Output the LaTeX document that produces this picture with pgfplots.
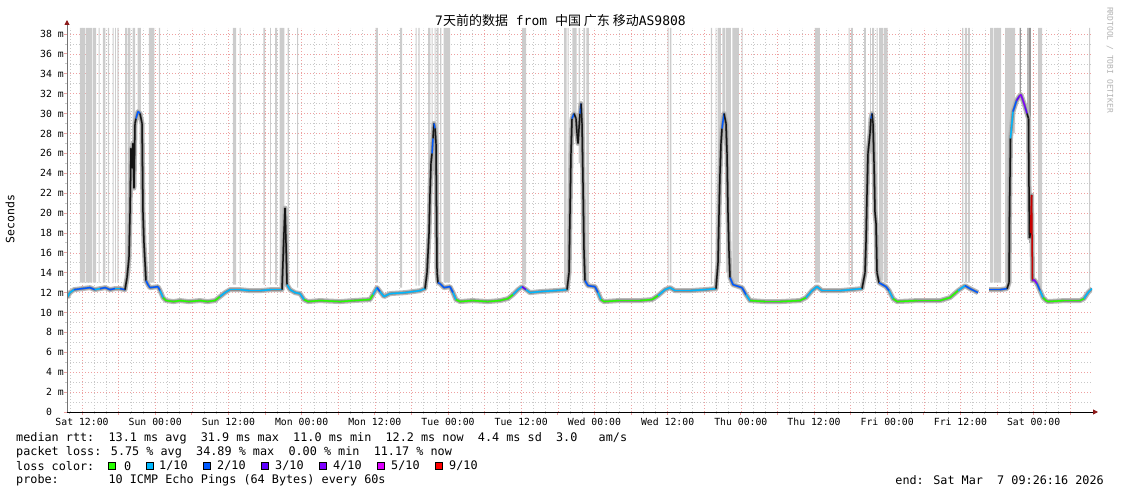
\documentclass[border=0pt]{standalone}
\usepackage{fontspec}
\setmainfont{DejaVu Sans Mono}
\setmonofont{DejaVu Sans Mono}
\newfontfamily\cjk{Noto Sans CJK SC}
\usepackage{pgfplots}
\usepackage{pgfplotstable}
\pgfplotsset{compat=1.18}
\usetikzlibrary{arrows.meta}

\definecolor{mgrid}{RGB}{238,160,160}
\definecolor{sgrid}{RGB}{200,200,200}
\definecolor{smoke}{RGB}{204,204,204}
\definecolor{smokedk}{RGB}{150,150,150}
\definecolor{smokeA}{RGB}{185,185,185}
\definecolor{smokeB}{RGB}{140,140,140}
\definecolor{arrred}{RGB}{140,25,25}
\definecolor{L0}{RGB}{38,255,0}
\definecolor{L1}{RGB}{0,184,255}
\definecolor{L2}{RGB}{0,89,255}
\definecolor{L3}{RGB}{94,0,255}
\definecolor{L4}{RGB}{126,0,255}
\definecolor{L5}{RGB}{221,0,255}
\definecolor{L9}{RGB}{255,0,0}

% median rtt (ms) vs hours after Sat 12:00; c = loss colour index (7 = dark)
\pgfplotstableread{
h v c
-2.46 11.5 1
-1.97 12.0 1
-1.31 12.3 2
0.00 12.4 2
1.31 12.5 2
2.10 12.3 1
2.95 12.4 2
3.80 12.5 2
4.59 12.3 2
5.40 12.4 1
6.23 12.4 2
7.05 12.3 7
7.38 13.5 7
7.70 15.5 7
7.87 20.0 7
8.03 26.5 7
8.20 24.5 7
8.36 27.0 7
8.52 22.5 7
8.69 29.0 7
8.85 29.5 2
9.18 30.2 2
9.51 30.0 7
9.84 29.0 7
10.00 20.0 7
10.16 17.0 7
10.49 13.2 2
10.82 12.8 2
11.15 12.5 2
12.46 12.6 2
12.79 12.2 1
13.28 11.5 0
13.77 11.2 0
15.00 11.1 0
16.07 11.2 0
17.50 11.1 0
19.34 11.2 0
20.60 11.1 0
21.80 11.2 0
22.62 11.6 1
23.44 12.0 1
24.26 12.3 1
25.90 12.3 1
27.50 12.2 1
29.18 12.2 1
31.00 12.3 1
32.79 12.3 7
33.11 18.0 7
33.28 20.5 7
33.44 17.0 7
33.61 12.8 1
34.10 12.3 1
34.92 12.0 1
35.74 11.9 1
36.39 11.3 0
37.05 11.1 0
39.00 11.2 0
42.30 11.1 0
44.50 11.2 0
47.21 11.3 0
47.70 11.8 1
48.36 12.5 2
48.85 12.1 1
49.51 11.6 1
50.49 11.9 1
52.95 12.0 1
55.41 12.2 1
56.23 12.4 7
56.56 14.0 7
56.89 18.0 7
57.05 22.0 7
57.21 25.0 7
57.38 26.0 2
57.54 27.5 7
57.70 29.0 2
57.87 28.5 7
58.03 27.0 7
58.20 14.0 7
58.36 13.0 2
58.69 12.9 2
59.34 12.5 2
60.33 12.6 2
60.82 12.0 1
61.31 11.3 0
61.97 11.1 0
64.00 11.2 0
66.50 11.1 0
68.52 11.2 0
69.84 11.4 0
70.66 11.8 1
71.48 12.3 1
72.13 12.6 3
72.79 12.3 1
73.44 12.0 1
75.08 12.1 1
77.54 12.2 1
79.51 12.3 7
79.84 14.0 7
80.00 20.0 7
80.16 26.0 7
80.33 29.5 2
80.66 30.0 7
80.98 29.5 7
81.15 28.0 7
81.31 27.0 7
81.64 30.0 2
81.80 31.0 7
81.97 29.0 7
82.13 23.0 7
82.30 16.0 7
82.46 13.2 2
82.95 12.7 2
84.10 12.6 2
84.59 12.0 1
85.08 11.3 0
85.57 11.1 0
88.00 11.2 0
91.48 11.2 0
93.44 11.3 0
94.43 11.7 1
95.57 12.3 1
96.39 12.5 1
97.21 12.2 1
99.67 12.2 1
102.13 12.3 1
103.93 12.4 7
104.26 15.0 7
104.43 20.0 7
104.59 24.0 7
104.75 27.0 7
104.92 28.5 2
105.25 30.0 7
105.57 29.0 7
105.74 26.0 7
105.90 20.0 7
106.07 16.0 7
106.23 13.5 2
106.72 12.8 2
108.20 12.5 2
108.85 11.8 1
109.51 11.2 0
112.00 11.1 0
114.43 11.1 0
117.70 11.2 0
118.69 11.5 1
119.67 12.2 1
120.49 12.6 1
121.31 12.2 1
124.26 12.2 1
127.87 12.4 7
128.36 14.0 7
128.52 17.0 7
128.69 22.0 7
128.85 26.0 7
129.18 28.0 7
129.34 29.5 2
129.51 30.0 7
129.67 29.0 7
129.84 25.0 7
130.00 20.0 7
130.16 19.0 7
130.33 14.0 7
130.66 13.0 2
131.80 12.6 2
132.30 12.2 1
132.95 11.4 0
133.61 11.1 0
137.00 11.2 0
140.66 11.2 0
142.30 11.5 0
143.61 12.2 1
144.75 12.7 2
145.57 12.4 2
146.89 12.0 2
}\medA

\pgfplotstableread{
h v c
148.69 12.3 2
150.49 12.3 2
151.64 12.4 7
151.97 13.0 7
152.05 20.0 7
152.21 27.5 1
152.62 30.2 2
153.20 31.3 3
153.61 31.7 4
153.93 31.9 4
154.26 31.3 4
154.59 30.7 3
154.92 30.0 7
155.16 29.5 7
155.25 22.0 7
155.33 17.5 7
155.49 18.0 6
155.66 21.8 6
155.82 13.2 4
156.07 13.3 4
156.56 12.9 2
157.05 12.2 1
157.54 11.5 0
158.03 11.2 0
158.36 11.1 0
161.00 11.2 0
163.61 11.2 0
164.26 11.4 1
164.92 12.0 1
165.57 12.4 1
}\medB

% grey loss-smoke bars reaching the top: each bar = 4 corners, nan separates bars
\pgfplotstableread{
x y
-0.33 13
-0.33 38.6
0.50 38.6
0.50 13
nan nan
0.65 13
0.65 38.6
1.65 38.6
1.65 13
nan nan
1.80 13
1.80 38.6
2.30 38.6
2.30 13
nan nan
2.74 13
2.74 38.6
2.90 38.6
2.90 13
nan nan
3.44 13
3.44 38.6
3.82 38.6
3.82 13
nan nan
4.26 13
4.26 38.6
4.43 38.6
4.43 13
nan nan
5.03 13
5.03 38.6
5.20 38.6
5.20 13
nan nan
5.41 13
5.41 38.6
5.57 38.6
5.57 13
nan nan
5.79 13
5.79 38.6
6.02 38.6
6.02 13
nan nan
7.05 13.5
7.05 38.6
7.43 38.6
7.43 13.5
nan nan
7.54 14
7.54 38.6
7.92 38.6
7.92 14
nan nan
8.31 27
8.31 38.6
8.69 38.6
8.69 27
nan nan
9.13 30
9.13 38.6
9.67 38.6
9.67 30
nan nan
10.98 13
10.98 38.6
11.85 38.6
11.85 13
nan nan
12.62 13
12.62 38.6
12.79 38.6
12.79 13
nan nan
24.75 12.8
24.75 38.6
25.25 38.6
25.25 12.8
nan nan
25.85 12.8
25.85 38.6
26.02 38.6
26.02 12.8
nan nan
29.72 12.8
29.72 38.6
30.00 38.6
30.00 12.8
nan nan
30.82 12.8
30.82 38.6
30.98 38.6
30.98 12.8
nan nan
31.64 12.8
31.64 38.6
31.97 38.6
31.97 12.8
nan nan
32.41 12.8
32.41 38.6
33.16 38.6
33.16 12.8
nan nan
33.72 12.8
33.72 38.6
33.93 38.6
33.93 12.8
nan nan
35.25 12.5
35.25 38.6
35.41 38.6
35.41 12.5
nan nan
48.15 13
48.15 38.6
48.52 38.6
48.52 13
nan nan
52.13 12.5
52.13 38.6
52.46 38.6
52.46 12.5
nan nan
54.70 12.7
54.70 38.6
54.87 38.6
54.87 12.7
nan nan
55.13 12.7
55.13 38.6
55.36 38.6
55.36 12.7
nan nan
56.72 15
56.72 38.6
57.10 38.6
57.10 15
nan nan
57.33 25
57.33 38.6
57.49 38.6
57.49 25
nan nan
57.82 27
57.82 38.6
57.98 38.6
57.98 27
nan nan
58.15 13.3
58.15 38.6
58.48 38.6
58.48 13.3
nan nan
58.69 13
58.69 38.6
58.90 38.6
58.90 13
nan nan
59.30 13
59.30 38.6
60.33 38.6
60.33 13
nan nan
72.13 12.8
72.13 38.6
72.79 38.6
72.79 12.8
nan nan
79.02 12.8
79.02 38.6
79.46 38.6
79.46 12.8
nan nan
79.62 13
79.62 38.6
79.79 38.6
79.79 13
nan nan
80.38 28
80.38 38.6
81.10 38.6
81.10 28
nan nan
81.43 25
81.43 38.6
81.64 38.6
81.64 25
nan nan
82.18 14
82.18 38.6
82.46 38.6
82.46 14
nan nan
82.67 13
82.67 38.6
83.11 38.6
83.11 13
nan nan
96.02 13
96.02 38.6
96.18 38.6
96.18 13
nan nan
96.39 13
96.39 38.6
96.61 38.6
96.61 13
nan nan
103.11 12.8
103.11 38.6
103.28 38.6
103.28 12.8
nan nan
103.89 12.8
103.89 38.6
103.98 38.6
103.98 12.8
nan nan
104.21 15
104.21 38.6
104.75 38.6
104.75 15
nan nan
104.97 28
104.97 38.6
105.41 38.6
105.41 28
nan nan
105.57 14
105.57 38.6
106.39 38.6
106.39 14
nan nan
106.61 13
106.61 38.6
107.70 38.6
107.70 13
nan nan
108.15 13
108.15 38.6
108.31 38.6
108.31 13
nan nan
120.16 13
120.16 38.6
120.98 38.6
120.98 13
nan nan
125.69 12.8
125.69 38.6
125.85 38.6
125.85 12.8
nan nan
126.07 12.8
126.07 38.6
126.39 38.6
126.39 12.8
nan nan
128.20 13
128.20 38.6
128.52 38.6
128.52 13
nan nan
129.18 26
129.18 38.6
129.34 38.6
129.34 26
nan nan
129.51 28
129.51 38.6
129.84 38.6
129.84 28
nan nan
130.28 14
130.28 38.6
130.44 38.6
130.44 14
nan nan
130.66 13.2
130.66 38.6
131.36 38.6
131.36 13.2
nan nan
131.48 13
131.48 38.6
132.08 38.6
132.08 13
nan nan
144.26 13
144.26 38.6
144.48 38.6
144.48 13
nan nan
144.75 13
144.75 38.6
145.08 38.6
145.08 13
nan nan
145.25 13
145.25 38.6
145.57 38.6
145.57 13
nan nan
148.85 13
148.85 38.6
149.39 38.6
149.39 13
nan nan
149.51 13
149.51 38.6
150.66 38.6
150.66 13
nan nan
151.31 13
151.31 38.6
152.05 38.6
152.05 13
nan nan
152.05 28
152.05 38.6
152.95 38.6
152.95 28
nan nan
156.72 12.5
156.72 38.6
157.38 38.6
157.38 12.5
nan nan
165.08 12.5
165.08 38.6
165.25 38.6
165.25 12.5
}\bars

\pgfplotstableread{
x y
153.72 31.5
153.72 38.6
153.93 38.6
153.93 31.5
nan nan
154.97 29
154.97 38.6
155.20 38.6
155.20 29
nan nan
155.25 17
155.25 38.6
155.57 38.6
155.57 17
}\darkbars

\begin{document}
\begin{tikzpicture}
\path[use as bounding box] (0,0) rectangle (1121bp,494bp);
\begin{axis}[
  at={(67bp,82bp)}, anchor=south west,
  scale only axis, width=1025bp, height=384bp,
  xmin=-2.46, xmax=165.57, ymin=0, ymax=38.6,
  axis line style={draw=none},
  clip mode=individual,
  tick pos=left, tick align=outside,
  xtick={-6,0,...,162},
  xticklabels={,Sat 12:00,,Sun 00:00,,Sun 12:00,,Mon 00:00,,Mon 12:00,,Tue 00:00,,Tue 12:00,,Wed 00:00,,Wed 12:00,,Thu 00:00,,Thu 12:00,,Fri 00:00,,Fri 12:00,,Sat 00:00,},
  minor x tick num=2,
  ytick={0,2,...,38},
  yticklabels={0\phantom{ m},2 m,4 m,6 m,8 m,10 m,12 m,14 m,16 m,18 m,20 m,22 m,24 m,26 m,28 m,30 m,32 m,34 m,36 m,38 m},
  minor y tick num=1,
  grid=both,
  major grid style={mgrid, dash pattern=on 1bp off 2bp, line width=0.6bp},
  minor grid style={sgrid, dash pattern=on 1bp off 2bp, line width=0.6bp},
  major tick length=3bp, minor tick length=2bp,
  every major tick/.append style={mgrid, line width=0.8bp},
  every minor tick/.append style={sgrid, line width=0.8bp},
  xticklabel style={font=\fontsize{9.8bp}{10bp}\selectfont, inner sep=0pt, yshift=-3bp},
  yticklabel style={font=\fontsize{9.8bp}{10bp}\selectfont, inner sep=0pt, anchor=east},
  colormap={loss}{rgb255=(38,255,0) rgb255=(0,184,255) rgb255=(0,89,255) rgb255=(94,0,255) rgb255=(126,0,255) rgb255=(221,0,255) rgb255=(200,0,0) rgb255=(20,20,20)},
]
\addplot[draw=none, fill=smoke, unbounded coords=jump] table[x=x,y=y] {\bars};
\addplot[draw=none, fill=smokedk, unbounded coords=jump] table[x=x,y=y] {\darkbars};
\addplot[smokeA, line width=5bp, line join=round] table[x=h,y=v] {\medA};
\addplot[smokeA, line width=5bp, line join=round] table[x=h,y=v] {\medB};
\addplot[smokeB, line width=2.6bp, line join=round] table[x=h,y=v] {\medA};
\addplot[smokeB, line width=2.6bp, line join=round] table[x=h,y=v] {\medB};
\addplot[mesh, shader=flat corner, line width=1.5bp, point meta=explicit, colormap access=direct] table[x=h,y=v,meta=c] {\medA};
\addplot[mesh, shader=flat corner, line width=1.5bp, point meta=explicit, colormap access=direct] table[x=h,y=v,meta=c] {\medB};
\end{axis}
% axis lines with arrow heads
\draw[black!55, line width=0.9bp, -{Triangle[width=5bp,length=5bp,color=arrred]}] (67bp,82bp) -- (67bp,474bp);
\draw[black, line width=0.9bp, -{Triangle[width=5bp,length=5bp,color=arrred]}] (67bp,82bp) -- (1098bp,82bp);
% title and side texts
\node[font=\fontsize{13bp}{14bp}\selectfont, inner sep=0pt] at (560.5bp,473bp) {7{\cjk 天前的数据} from {\cjk 中国 广东 移动}AS9808};
\node[rotate=90, font=\fontsize{11.5bp}{12bp}\selectfont, inner sep=0pt] at (10bp,275bp) {Seconds};
\node[rotate=-90, font=\fontsize{8bp}{9bp}\selectfont, text=black!30, inner sep=0pt] at (1110bp,434bp) {RRDTOOL / TOBI OETIKER};
% footer
\begin{scope}[every node/.style={font=\fontsize{11.8bp}{13bp}\selectfont, inner sep=0pt, anchor=west}]
\node at (16bp,55.7bp) {median rtt:~~13.1 ms avg~~31.9 ms max~~11.0 ms min~~12.2 ms now~~4.4 ms sd~~3.0~~~am/s};
\node at (16bp,41.7bp) {packet loss: 5.75 \% avg~~34.89 \% max~~0.00 \% min~~11.17 \% now};
\node at (16bp,28bp) {loss color:};
\node at (124bp,28bp) {0};
\node at (159bp,28bp) {1/10};
\node at (217bp,28bp) {2/10};
\node at (275bp,28bp) {3/10};
\node at (333bp,28bp) {4/10};
\node at (391bp,28bp) {5/10};
\node at (449bp,28bp) {9/10};
\node at (16bp,14bp) {probe:~~~~~~~10 ICMP Echo Pings (64 Bytes) every 60s};
\node[anchor=east] at (1104bp,14bp) {end: Sat Mar~~7 09:26:16 2026};
\end{scope}
\foreach \xa/\cc in {108.5/L0,146/L1,203.5/L2,261.2/L3,319.2/L4,377/L5,435.2/L9}{
  \draw[black, line width=0.9bp, fill=\cc] (\xa bp,24.2bp) rectangle ++(7.2bp,7.6bp);
}
\end{tikzpicture}
\end{document}
